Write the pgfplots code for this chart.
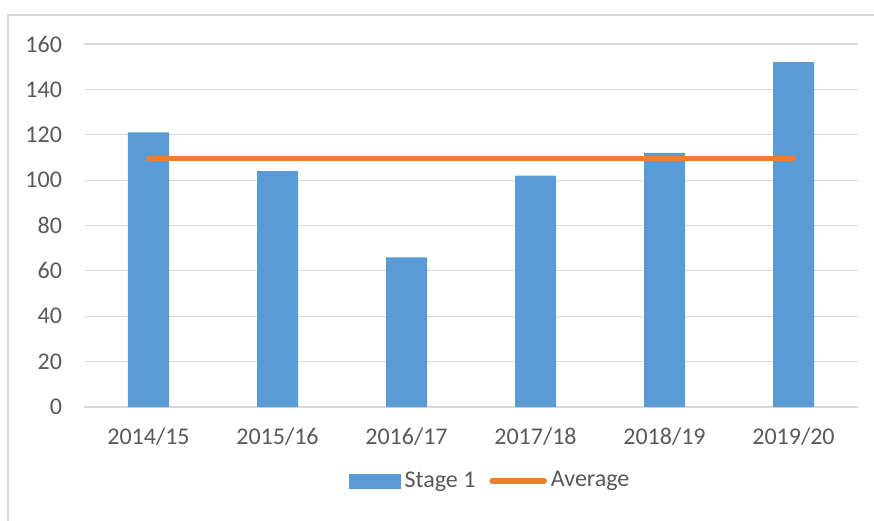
\documentclass[border=0pt]{standalone}
\usepackage{pgfplots}
\pgfplotsset{compat=1.18}
\usepackage{fontspec}
\setmainfont{Carlito}
\definecolor{barblue}{HTML}{5B9BD5}
\definecolor{lineorange}{HTML}{ED7D31}
\definecolor{txtgray}{HTML}{595959}
\definecolor{gridgray}{HTML}{D9D9D9}
\begin{document}
\fontsize{23.5}{28}\selectfont
\begin{tikzpicture}
\begin{axis}[
  scale only axis,
  width=774pt, height=363pt,
  xmin=-0.5, xmax=5.5,
  ymin=0, ymax=160,
  ytick={0,20,...,160},
  xtick={0,1,2,3,4,5},
  xticklabels={2014/15,2015/16,2016/17,2017/18,2018/19,2019/20},
  ymajorgrids,
  major grid style={draw=gridgray, line width=1.2pt},
  axis line style={draw=none},
  major tick length=0pt,
  tick style={draw=none},
  /pgf/number format/assume math mode=true,
  every tick label/.append style={font=\fontsize{24}{28}\selectfont, text=txtgray},
  yticklabel style={xshift=-14pt},
  xticklabel style={yshift=-13pt},
  legend style={at={(rel axis cs:0.5245,-0.204)}, anchor=center, draw=none, fill=none,
    legend columns=-1, font=\fontsize{24}{28}\selectfont, text=txtgray,
    /tikz/every odd column/.append style={column sep=2pt},
    /tikz/every even column/.append style={column sep=12pt}},
  clip=false,
]
\addplot[ybar, bar width=41pt, fill=barblue, draw=none, bar shift=0pt,
  legend image code/.code={\fill[barblue] (0pt,-7.5pt) rectangle (52pt,7.5pt);}]
  coordinates {(0,121) (1,104) (2,66) (3,102) (4,112) (5,152)};
\addlegendentry{Stage 1}
\addplot[draw=lineorange, line width=5.5pt, line cap=round,
  legend image code/.code={\draw[lineorange, line width=5.5pt, line cap=round] (2pt,0pt) -- (54pt,0pt);}]
  coordinates {(0,109.5) (1,109.5) (2,109.5) (3,109.5) (4,109.5) (5,109.5)};
\addlegendentry{Average}
\coordinate (sw) at (rel axis cs:0,0);
\coordinate (ne) at (rel axis cs:1,1);
\end{axis}
\draw[gridgray, line width=1.5pt] ([shift={(-76pt,-130pt)}]sw) |- ([shift={(40pt,29pt)}]ne);
\pgfresetboundingbox
\path[use as bounding box] ([shift={(-84pt,-113pt)}]sw) rectangle ([shift={(16pt,44pt)}]ne);
\end{tikzpicture}
\end{document}
